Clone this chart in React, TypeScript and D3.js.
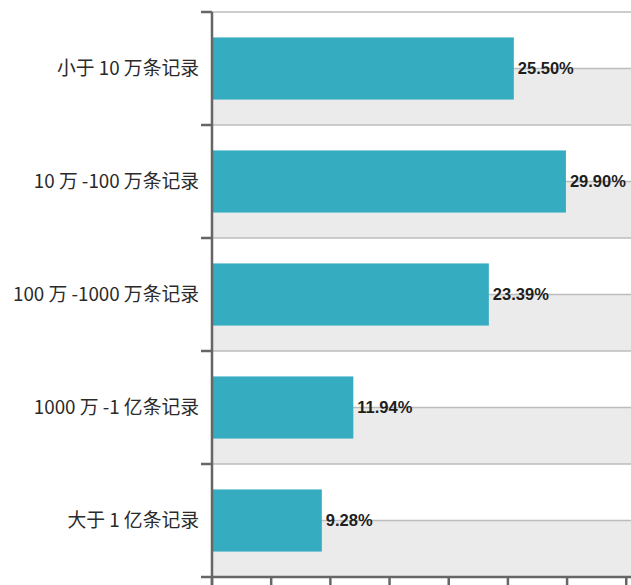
import React from "react";
import * as d3 from "d3";

const categories = ["小于 10 万条记录", "10 万 -100 万条记录", "100 万 -1000 万条记录", "1000 万 -1 亿条记录", "大于 1 亿条记录"];
const values = [25.5, 29.9, 23.39, 11.94, 9.28];
const xTicks = [0, 5, 10, 15, 20, 25, 30, 35];

export default function App() {
    const width = 631;
    const height = 585;
    const margin = { top: 12, right: 0, bottom: 8, left: 212 };

    const x = d3.scaleLinear([0, 35.4], [margin.left, width - margin.right]);
    const band = d3.scaleBand(categories, [margin.top, height - margin.bottom]);
    const bar = d3.scaleBand(categories, [margin.top, height - margin.bottom]).paddingInner(0.45).paddingOuter(0.225);

    const bw = band.bandwidth();

    return <svg width={width} height={height} style={{ position: "absolute", left: 0, top: 0, background: "#fff" }}>
        {/* striped background: lower half of each band is gray */}
        {categories.map((c) => (
            <rect key={"bg" + c} x={margin.left} y={band(c)! + bw / 2} width={width - margin.left} height={bw / 2} fill="#ebebeb" />
        ))}
        {/* grid lines */}
        {categories.map((c) => (
            <g key={"gl" + c}>
                <line x1={margin.left} x2={width} y1={band(c)!} y2={band(c)!} stroke="#bdbdbd" strokeWidth={1.5} />
                <line x1={margin.left} x2={width} y1={band(c)! + bw / 2} y2={band(c)! + bw / 2} stroke="#bdbdbd" strokeWidth={1.5} />
            </g>
        ))}
        {/* bars */}
        {categories.map((c, i) => (
            <rect key={"b" + c} x={x(0)} y={bar(c)!} width={x(values[i]) - x(0)} height={bar.bandwidth()} fill="#35acc0" />
        ))}
        {/* value labels */}
        {categories.map((c, i) => (
            <text key={"v" + c} x={x(values[i]) + 4} y={band(c)! + bw / 2} dy="0.36em"
                fontFamily="'Liberation Sans', Arial, sans-serif" fontWeight="bold" fontSize={16.5} fill="#1e1e1e">
                {values[i].toFixed(2)}%
            </text>
        ))}
        {/* category labels */}
        {categories.map((c) => (
            <text key={"c" + c} x={margin.left - 13} y={band(c)! + bw / 2} dy="0.36em" textAnchor="end"
                fontFamily="'Noto Sans CJK SC', 'Noto Sans', sans-serif" fontSize={18.8} fill="#2a2a2a">
                {c}
            </text>
        ))}
        {/* y axis */}
        <line x1={margin.left} x2={margin.left} y1={margin.top} y2={height} stroke="#666" strokeWidth={2.5} />
        {categories.map((c) => (
            <line key={"yt" + c} x1={margin.left - 11} x2={margin.left} y1={band(c)!} y2={band(c)!} stroke="#666" strokeWidth={2.5} />
        ))}
        <line x1={margin.left - 11} x2={margin.left} y1={height - margin.bottom} y2={height - margin.bottom} stroke="#666" strokeWidth={2.5} />
        {/* x axis */}
        <line x1={margin.left} x2={width} y1={height - margin.bottom} y2={height - margin.bottom} stroke="#666" strokeWidth={2.5} />
        {xTicks.map((t) => (
            <line key={"xt" + t} x1={x(t)} x2={x(t)} y1={height - margin.bottom} y2={height} stroke="#666" strokeWidth={2.5} />
        ))}
    </svg>;
}
